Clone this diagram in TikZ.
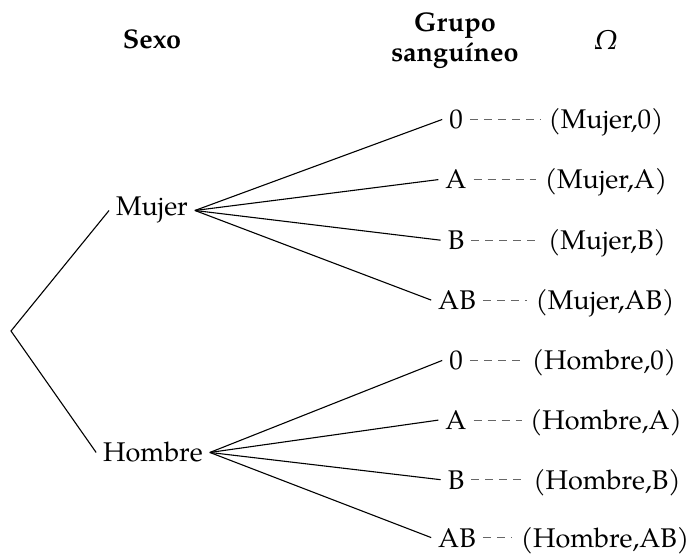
\documentclass[tikz,border=0pt]{standalone}
\usepackage{fontspec}
\setmainfont{TeX Gyre Pagella}
\begin{document}
\begin{tikzpicture}[x=0.5pt,y=-0.5pt,
  every node/.style={font=\fontsize{13.5}{16}\selectfont},
  lbl/.style={anchor=base},
  outc/.style={anchor=base,inner sep=0.5pt},
  head/.style={anchor=base,font=\fontsize{13.5}{16}\selectfont\bfseries},
  branch/.style={draw=black,line width=0.55pt},
  link/.style={draw=black!60,line width=0.55pt,dash pattern=on 4pt off 3pt}]
\useasboundingbox (0,0) rectangle (687,556);
% headers
\node[head] (hsexo) at (152,49) {Sexo};
\node[head] (hgrupo) at (455,32) {Grupo};
\node[head] (hsang) at (455,62) {sanguíneo};
\node[lbl] (homega) at (606,50) {\itshape Ω};
% root
\coordinate (root) at (11,331);
\node[lbl] (mujer) at (152,216) {Mujer};
\node[lbl] (hombre) at (153,462) {Hombre};
% level 2
\node[lbl] (m0) at (456,128.5) {0};
\node[lbl] (mA) at (456,189) {A};
\node[lbl] (mB) at (456,249.5) {B};
\node[lbl] (mAB) at (457,309.5) {AB};
\node[lbl] (h0) at (456,369.5) {0};
\node[lbl] (hA) at (456,429.5) {A};
\node[lbl] (hB) at (456,489) {B};
\node[lbl] (hAB) at (457,547) {AB};
% outcomes
\node[outc] (om0) at (606,128.5) {(Mujer,0)};
\node[outc] (omA) at (606,189) {(Mujer,A)};
\node[outc] (omB) at (607,249.5) {(Mujer,B)};
\node[outc] (omAB) at (605,309.5) {(Mujer,AB)};
\node[outc] (oh0) at (604,369.5) {(Hombre,0)};
\node[outc] (ohA) at (606,429.5) {(Hombre,A)};
\node[outc] (ohB) at (607,489) {(Hombre,B)};
\node[outc] (ohAB) at (605,547) {(Hombre,AB)};
% branches
\draw[branch] (mujer.west) -- (root) -- (hombre.west);
\foreach \c in {m0,mA,mB,mAB} \draw[branch] (mujer.east) -- (\c.west);
\foreach \c in {h0,hA,hB,hAB} \draw[branch] (hombre.east) -- (\c.west);
% dashed links
\foreach \c in {m0,mA,mB,mAB,h0,hA,hB,hAB} \draw[link] (\c.east) -- ([xshift=-3.5pt]\c.east -| o\c.west);
\end{tikzpicture}
\end{document}
